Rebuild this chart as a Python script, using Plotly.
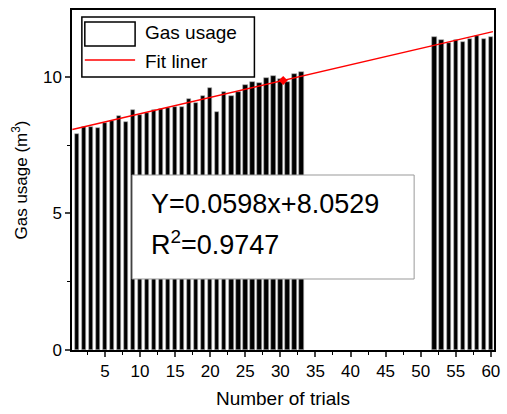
import plotly.graph_objects as go

trials_a = list(range(1, 34))
gas_a = [7.90, 8.18, 8.15, 8.12, 8.30, 8.39, 8.57, 8.36, 8.79, 8.61, 8.67, 8.79,
         8.81, 8.85, 8.89, 8.91, 9.18, 9.04, 9.30, 9.60, 8.73, 9.46, 9.30, 9.46,
         9.71, 9.83, 9.79, 9.95, 10.04, 9.92, 9.83, 10.11, 10.18]
trials_b = list(range(52, 61))
gas_b = [11.45, 11.36, 11.23, 11.36, 11.29, 11.39, 11.48, 11.39, 11.45]

slope = 0.0598
intercept = 8.0529
r2 = 0.9747
fit_x = [0.35, 60.3]
marker_x = [30.4]

x_ticks = [5, 10, 15, 20, 25, 30, 35, 40, 45, 50, 55, 60]
y_ticks = [0, 5, 10]

X_RANGE = [0.3, 60.45]
Y_RANGE = [0, 12.45]

W, H = 507, 414
ML, MR, MT, MB = 72, 7, 10, 64
PW, PH = W - ML - MR, H - MT - MB


def px(x):
    return (x - ML) / PW


def py(y):
    return (H - MB - y) / PH


fig = go.Figure()
fig.add_trace(go.Bar(x=trials_a + trials_b, y=gas_a + gas_b, width=0.64,
                     marker=dict(color="black", line=dict(color="#aaaaaa", width=0.6)),
                     showlegend=False))
fig.add_trace(go.Scatter(x=fit_x, y=[slope * v + intercept for v in fit_x], mode="lines",
                         line=dict(color="#ff0000", width=1.5), showlegend=False))
fig.add_trace(go.Scatter(x=marker_x, y=[slope * v + intercept for v in marker_x], mode="markers",
                         marker=dict(color="#ff0000", size=7, symbol="diamond"), showlegend=False))

shapes = [
    # legend box
    dict(type="rect", xref="paper", yref="paper", x0=px(82), x1=px(257), y0=py(77), y1=py(17),
         line=dict(color="black", width=1.5), fillcolor="white", layer="above"),
    dict(type="rect", xref="paper", yref="paper", x0=px(85), x1=px(136), y0=py(46), y1=py(22),
         line=dict(color="black", width=1.5), fillcolor="white", layer="above"),
    dict(type="line", xref="paper", yref="paper", x0=px(85), x1=px(136), y0=py(60), y1=py(60),
         line=dict(color="#ff0000", width=1.5), layer="above"),
    # equation box
    dict(type="rect", xref="paper", yref="paper", x0=px(133), x1=px(419), y0=py(279), y1=py(175),
         line=dict(color="#999999", width=1), fillcolor="white", layer="above"),
]

font = "Liberation Sans, Arial, sans-serif"
annotations = [
    dict(text="Gas usage", xref="paper", yref="paper", x=px(144), y=py(33), xanchor="left",
         yanchor="middle", showarrow=False, font=dict(size=19, color="black", family=font)),
    dict(text="Fit liner", xref="paper", yref="paper", x=px(144), y=py(61), xanchor="left",
         yanchor="middle", showarrow=False, font=dict(size=19, color="black", family=font)),
    dict(text=f"Y={slope}x+{intercept}", xref="paper", yref="paper", x=px(150), y=py(204),
         xanchor="left", yanchor="middle", showarrow=False,
         font=dict(size=27, color="black", family=font)),
    dict(text=f"R<sup>2</sup>=<span>{r2}</span>", xref="paper", yref="paper", x=px(150), y=py(243),
         xanchor="left", yanchor="middle", showarrow=False,
         font=dict(size=27, color="black", family=font)),
]

fig.update_layout(
    width=W, height=H, margin=dict(l=ML, r=MR, t=MT, b=MB),
    paper_bgcolor="white", plot_bgcolor="white",
    font=dict(family=font, color="black"),
    shapes=shapes, annotations=annotations, bargap=0,
    xaxis=dict(range=X_RANGE, tickvals=x_ticks, ticks="outside", ticklen=5, tickwidth=1.5,
               showline=True, linecolor="black", linewidth=1.5, mirror=True, showgrid=False,
               zeroline=False, tickfont=dict(size=17),
               minor=dict(tickvals=[v + 2.5 for v in x_ticks] + [2.5], ticks="outside",
                          ticklen=3, tickwidth=1.2, tickcolor="black"),
               title=dict(text="Number of trials", font=dict(size=19), standoff=12)),
    yaxis=dict(range=Y_RANGE, tickvals=y_ticks, ticks="outside", ticklen=5, tickwidth=1.5,
               showline=True, linecolor="black", linewidth=1.5, mirror=True, showgrid=False,
               zeroline=False, tickfont=dict(size=17),
               minor=dict(tickvals=[2.5, 7.5, 12.5], ticks="outside", ticklen=3,
                          tickwidth=1.2, tickcolor="black"),
               title=dict(text="Gas usage (m<sup>3</sup>)", font=dict(size=17), standoff=11)),
)

fig.write_html("out.html")
